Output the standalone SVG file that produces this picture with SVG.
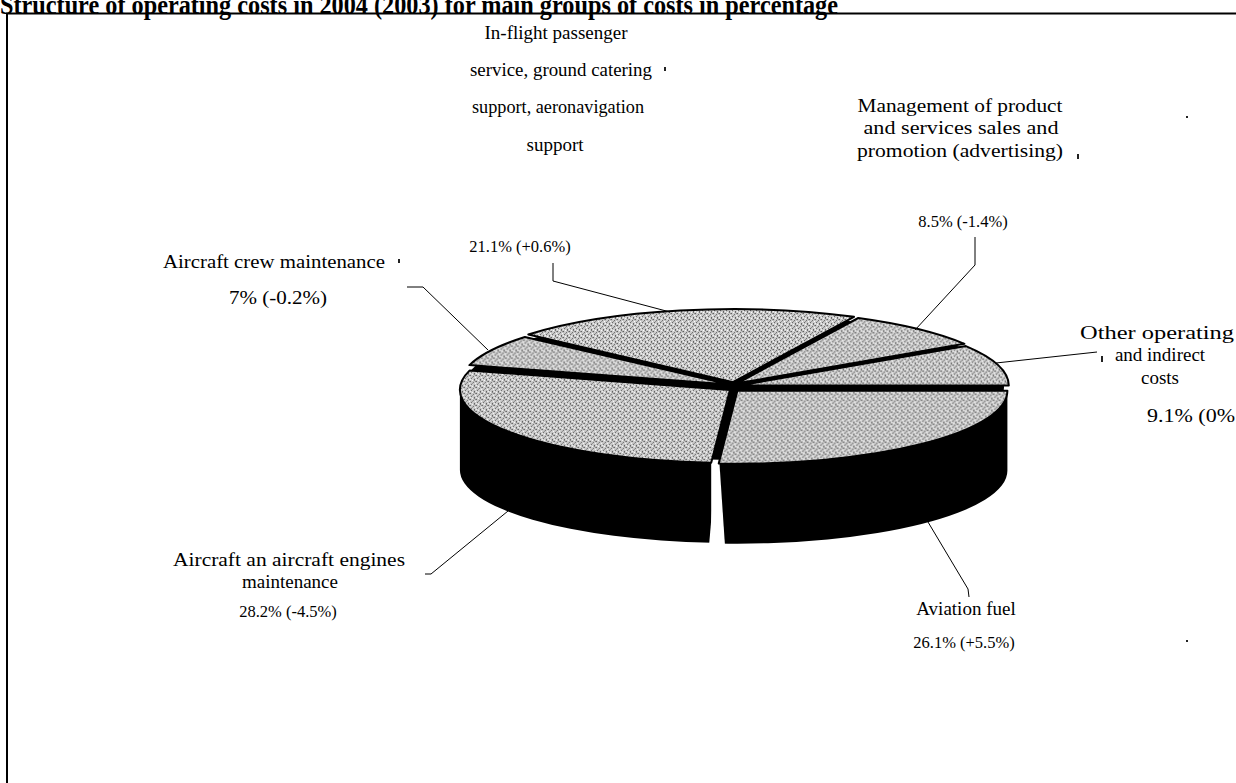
<svg xmlns="http://www.w3.org/2000/svg" width="1236" height="783" viewBox="0 0 1236 783">
<defs>
<pattern id="dither" width="6" height="6" patternUnits="userSpaceOnUse">
<rect width="6" height="6" fill="#cbcbcb"/>
<rect x="0" y="0" width="1" height="1" fill="#555"/>
<rect x="3" y="1" width="1" height="1" fill="#666"/>
<rect x="1" y="3" width="1" height="1" fill="#5e5e5e"/>
<rect x="4" y="4" width="1" height="1" fill="#555"/>
<rect x="5" y="0" width="1" height="1" fill="#888"/>
<rect x="2" y="2" width="1" height="1" fill="#888"/>
<rect x="4" y="5" width="1" height="1" fill="#777"/>
<rect x="2" y="5" width="1" height="1" fill="#fff"/>
<rect x="5" y="2" width="1" height="1" fill="#fff"/>
<rect x="0" y="4" width="1" height="1" fill="#f4f4f4"/>
</pattern>
</defs>
<style>
.lbl{font-family:"Liberation Serif","Times New Roman",serif;font-size:19px;fill:#000;text-anchor:middle}
.pct{font-family:"Liberation Serif","Times New Roman",serif;font-size:16.5px;fill:#000;text-anchor:middle}
.title{font-family:"Liberation Serif","Times New Roman",serif;font-weight:bold;font-size:27px;fill:#000}
.face{fill:url(#dither);stroke:#000;stroke-width:2;stroke-linejoin:round}
.side{fill:#000}
.lead{fill:none;stroke:#000;stroke-width:1}
.mark{fill:#222}
</style>
<rect width="1236" height="783" fill="#fff"/>
<text class="title" x="0" y="14" textLength="838" lengthAdjust="spacingAndGlyphs">Structure of operating costs in 2004 (2003) for main groups of costs in percentage</text>
<path d="M7,783 V13.5 H1236" fill="none" stroke="#000" stroke-width="2"/>

<g id="pie-body">
<ellipse cx="734" cy="387" rx="270" ry="73" class="side"/>
<path class="side" transform="translate(3.4,3.7)" d="M1004,387 A270,73 0 0 1 715.3,459.8 L715.3,539.8 A270,73 0 0 0 1004,467 Z"/>
<path class="side" transform="translate(-4.1,2.9)" d="M715.3,459.8 A270,73 0 0 1 464,387 L464,467 A270,73 0 0 0 715.3,539.8 Z"/>
<polygon points="716,464 719.5,464 725,546 709,546" fill="#fff"/>
</g>

<g id="slice-inflight" transform="translate(-1,-4.9)"><path class="face" d="M734,387 L529.3,339.4 A270,73 0 0 1 855,321.7 Z"/></g>
<g id="slice-management" transform="translate(3.3,-3.7)"><path class="face" d="M734,387 L855,321.7 A270,73 0 0 1 961.1,347.5 Z"/></g>
<g id="slice-crew" transform="translate(-4.4,-2.4)"><path class="face" d="M734,387 L473.8,367.5 A270,73 0 0 1 529.3,339.4 Z"/></g>
<g id="slice-other" transform="translate(4.8,-1.4)"><path class="face" d="M734,387 L961.1,347.5 A270,73 0 0 1 1004,387 Z"/></g>
<g id="slice-engines" transform="translate(-4.1,2.9)"><path class="face" d="M734,387 L715.3,459.8 A270,73 0 0 1 473.8,367.5 Z"/></g>
<g id="slice-fuel" transform="translate(3.4,3.7)"><path class="face" d="M734,387 L1004,387 A270,73 0 0 1 715.3,459.8 Z"/></g>

<g id="connectors">
<polyline class="lead" points="407,287 423,287 488,350"/>
<polyline class="lead" points="553,263 553,281 670,312"/>
<polyline class="lead" points="975,237 975,265 915,330"/>
<polyline class="lead" points="996,363 1097,352"/>
<polyline class="lead" points="425,574 431,574 508,511"/>
<polyline class="lead" points="928,522 968,589 969,597"/>
</g>

<g id="label-inflight">
<text class="lbl" x="556" y="39">In-flight passenger</text>
<text class="lbl" x="561" y="76" textLength="182" lengthAdjust="spacingAndGlyphs">service, ground catering</text>
<text class="lbl" x="558" y="113" textLength="172" lengthAdjust="spacingAndGlyphs">support, aeronavigation</text>
<text class="lbl" x="555" y="151">support</text>
<text class="pct" x="520" y="252">21.1% (+0.6%)</text>
</g>
<g id="label-management">
<text class="lbl" x="960" y="112" textLength="205" lengthAdjust="spacingAndGlyphs">Management of product</text>
<text class="lbl" x="961" y="134" textLength="195" lengthAdjust="spacingAndGlyphs">and services sales and</text>
<text class="lbl" x="960" y="157" textLength="206" lengthAdjust="spacingAndGlyphs">promotion (advertising)</text>
<text class="pct" x="963" y="227">8.5% (-1.4%)</text>
</g>
<g id="label-crew">
<text class="lbl" x="274" y="268" textLength="222" lengthAdjust="spacingAndGlyphs">Aircraft crew maintenance</text>
<text class="lbl" x="278" y="304" textLength="98" lengthAdjust="spacingAndGlyphs">7% (-0.2%)</text>
</g>
<g id="label-other">
<text class="lbl" x="1080" y="339" style="text-anchor:start" textLength="154" lengthAdjust="spacingAndGlyphs">Other operating</text>
<text class="lbl" x="1160" y="361">and indirect</text>
<text class="lbl" x="1160" y="384">costs</text>
<text class="lbl" x="1147" y="422" style="text-anchor:start" textLength="88" lengthAdjust="spacingAndGlyphs">9.1% (0%</text>
</g>
<g id="label-engines">
<text class="lbl" x="289" y="566" textLength="232" lengthAdjust="spacingAndGlyphs">Aircraft an aircraft engines</text>
<text class="lbl" x="290" y="588">maintenance</text>
<text class="pct" x="288" y="617">28.2% (-4.5%)</text>
</g>
<g id="label-fuel">
<text class="lbl" x="966" y="615">Aviation fuel</text>
<text class="pct" x="964" y="648">26.1% (+5.5%)</text>
</g>
<g id="marks">
<rect class="mark" x="664" y="67" width="2" height="4"/>
<rect class="mark" x="398" y="259" width="2" height="4"/>
<rect class="mark" x="1077" y="154" width="2" height="5"/>
<rect class="mark" x="1101" y="356" width="2" height="6"/>
<rect class="mark" x="1186" y="116" width="2" height="2"/>
<rect class="mark" x="1186" y="640" width="2" height="2"/>
</g>
</svg>
